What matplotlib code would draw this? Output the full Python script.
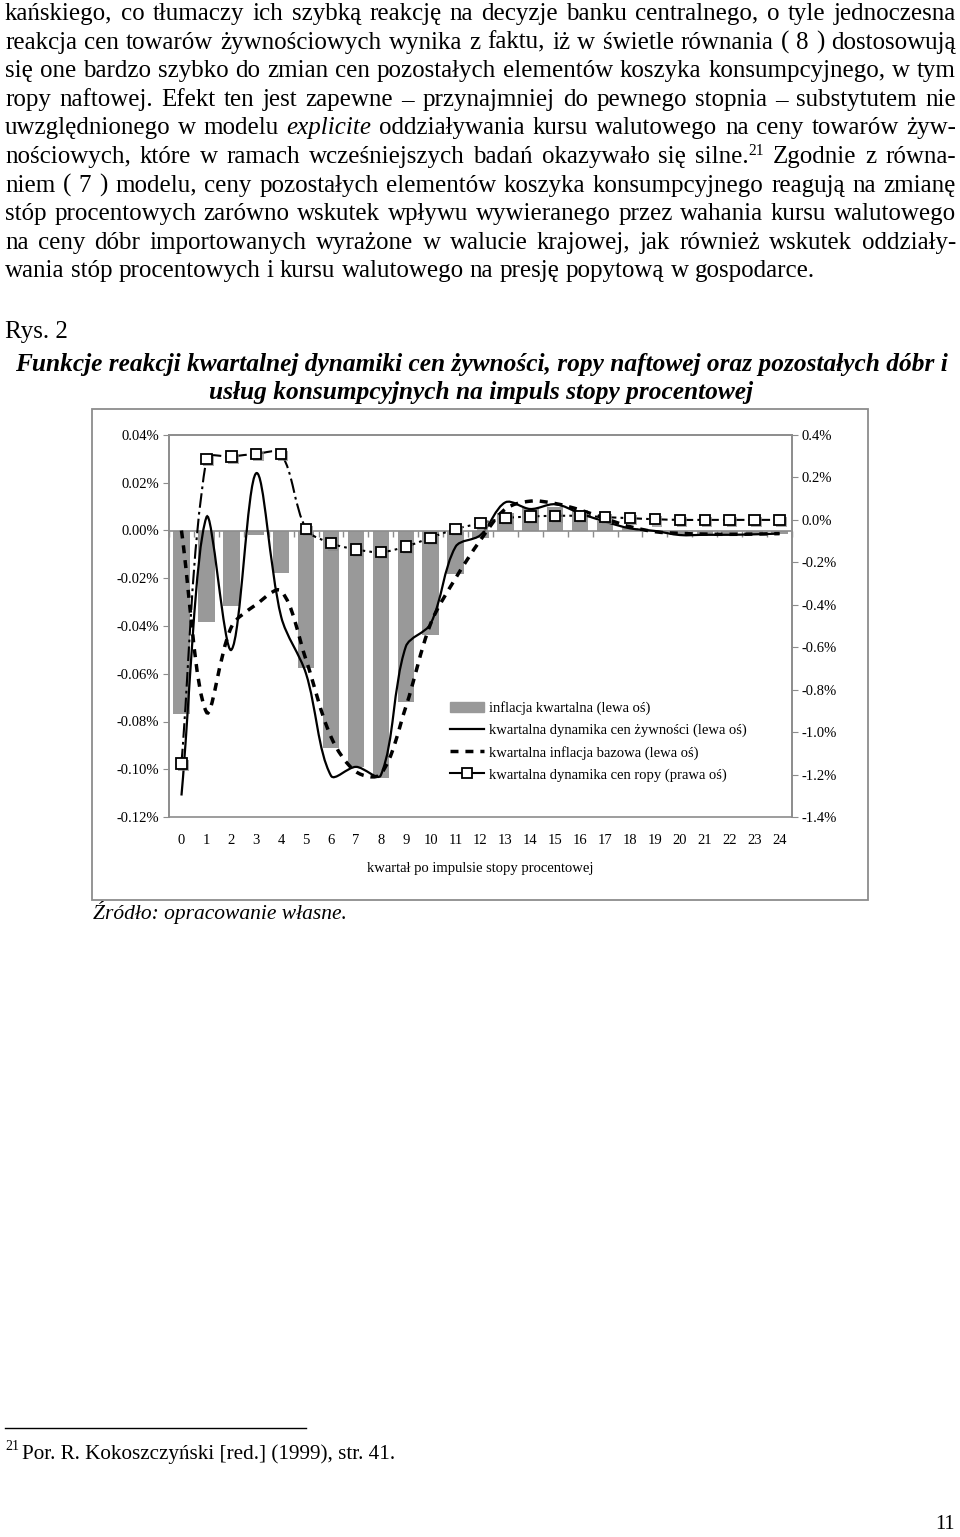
import matplotlib.pyplot as plt
import matplotlib.patheffects as pe
from matplotlib.path import Path
from matplotlib.patches import PathPatch, Rectangle
from matplotlib.lines import Line2D
from matplotlib.ticker import FuncFormatter, MultipleLocator
import numpy as np

# --- data ---
quarters = list(range(25))
inflation = [-0.0770, -0.0385, -0.0318, -0.0020, -0.0180, -0.0576, -0.0912, -0.0990, -0.1035,
             -0.0718, -0.0439, -0.0183, -0.0033, 0.0075, 0.0095, 0.0100, 0.0085, 0.0040,
             0.0010, -0.0008, -0.0015, -0.0018, -0.0018, -0.0017, -0.0015]
food = [-0.1110, 0.0055, -0.0500, 0.0240, -0.0361, -0.0600, -0.1027, -0.0990, -0.1025,
        -0.0487, -0.0390, -0.0068, -0.0019, 0.0118, 0.0090, 0.0110, 0.0072, 0.0037,
        0.0009, -0.0002, -0.0019, -0.0018, -0.0018, -0.0016, -0.0013]
core = [0.0000, -0.0760, -0.0405, -0.0310, -0.0253, -0.0542, -0.0864, -0.1010, -0.1020,
        -0.0740, -0.0390, -0.0200, -0.0040, 0.0090, 0.0123, 0.0113, 0.0086, 0.0050,
        0.0016, -0.0005, -0.0012, -0.0015, -0.0016, -0.0015, -0.0013]
oil = [-1.147, 0.286, 0.298, 0.311, 0.311, -0.042, -0.110, -0.139, -0.152, -0.126,
       -0.084, -0.043, -0.016, 0.008, 0.016, 0.019, 0.019, 0.013, 0.008, 0.003,
       0.0, 0.0, 0.0, 0.0, 0.0]

legend_labels = ["inflacja kwartalna (lewa oś)",
                 "kwartalna dynamika cen żywności (lewa oś)",
                 "kwartalna inflacja bazowa (lewa oś)",
                 "kwartalna dynamika cen ropy (prawa oś)"]
x_label = "kwartał po impulsie stopy procentowej"

body_lines = [
    "kańskiego, co tłumaczy ich szybką reakcję na decyzje banku centralnego, o tyle jednoczesna",
    "reakcja cen towarów żywnościowych wynika z faktu, iż w świetle równania ( 8 ) dostosowują",
    "się one bardzo szybko do zmian cen pozostałych elementów koszyka konsumpcyjnego, w tym",
    "ropy naftowej. Efekt ten jest zapewne – przynajmniej do pewnego stopnia – substytutem nie",
    "uwzględnionego w modelu *explicite* oddziaływania kursu walutowego na ceny towarów żyw-",
    "nościowych, które w ramach wcześniejszych badań okazywało się silne.^21 Zgodnie z równa-",
    "niem ( 7 ) modelu, ceny pozostałych elementów koszyka konsumpcyjnego reagują na zmianę",
    "stóp procentowych zarówno wskutek wpływu wywieranego przez wahania kursu walutowego",
    "na ceny dóbr importowanych wyrażone w walucie krajowej, jak również wskutek oddziały-",
    "wania stóp procentowych i kursu walutowego na presję popytową w gospodarce.",
]
fig_label = "Rys. 2"
title_lines = ["Funkcje reakcji kwartalnej dynamiki cen żywności, ropy naftowej oraz pozostałych dóbr i",
               "usług konsumpcyjnych na impuls stopy procentowej"]
source = "Źródło: opracowanie własne."
footnote = "Por. R. Kokoszczyński [red.] (1999), str. 41."
page_no = "11"

SERIF = ["Liberation Serif", "DejaVu Serif"]
W, H = 960, 1537
GRAY = "#8c8c8c"


def fx(x):
    return x / W


def fy(y):
    return 1 - y / H


def smooth_path(a, xs, ys, tension=1 / 3):
    # Bezier curve through the points, with the tangents weighted by the
    # on-screen segment lengths (the way spreadsheet "smoothed lines" behave)
    pts = a.transData.transform(np.column_stack([xs, ys]))
    n = len(pts)
    verts = [pts[0]]
    codes = [Path.MOVETO]
    for i in range(n - 1):
        p0, p1 = pts[max(i - 1, 0)], pts[i]
        p2, p3 = pts[i + 1], pts[min(i + 2, n - 1)]
        d01 = np.hypot(*(p1 - p0))
        d12 = np.hypot(*(p2 - p1))
        d23 = np.hypot(*(p3 - p2))
        f1 = tension * d12 / (d01 + d12) if d01 + d12 > 0 else 0
        f2 = tension * d12 / (d12 + d23) if d12 + d23 > 0 else 0
        verts += [p1 + (p2 - p0) * f1, p2 - (p3 - p1) * f2, p2]
        codes += [Path.CURVE4] * 3
    return Path(a.transData.inverted().transform(np.array(verts)), codes)


fig = plt.figure(figsize=(9.6, 15.37), dpi=100)
renderer = fig.canvas.get_renderer()

# --- body text, justified ---
BODY = 18
body_px = BODY * 100 / 72


def parse_word(w):
    if w.startswith("*") and w.endswith("*"):
        return [(w.strip("*"), "italic", BODY, 0)]
    if "^" in w:
        a, b = w.split("^")
        return [(a, "normal", BODY, 0), (b, "normal", BODY * 0.62, 8)]
    return [(w, "normal", BODY, 0)]


def seg_width(s, style, size):
    t = fig.text(0, 0, s, fontsize=size, fontstyle=style, family=SERIF)
    w = t.get_window_extent(renderer).width
    t.remove()
    return w


left, right = 5, 956
for k, line in enumerate(body_lines):
    base = 20 + 28.6 * k
    words = [parse_word(w) for w in line.split(" ")]
    widths = [sum(seg_width(s, st, sz) for s, st, sz, _ in wd) for wd in words]
    if k == len(body_lines) - 1:
        gap = body_px * 0.25
    else:
        gap = (right - left - sum(widths)) / (len(words) - 1)
    x = left
    for wd, ww in zip(words, widths):
        xx = x
        for s, st, sz, rise in wd:
            fig.text(fx(xx), fy(base - rise), s, fontsize=sz, fontstyle=st,
                     family=SERIF, va="baseline", ha="left")
            xx += seg_width(s, st, sz)
        x += ww + gap

fig.text(fx(5), fy(338), fig_label, fontsize=BODY, family=SERIF, va="baseline")
for k, tl in enumerate(title_lines):
    fig.text(fx(481), fy(371 + 28.5 * k), tl, fontsize=18.3, family=SERIF,
             fontstyle="italic", fontweight="bold", va="baseline", ha="center")

# --- chart frame ---
fig.patches.append(Rectangle((fx(92), fy(900)), fx(868) - fx(92), fy(409) - fy(900),
                             transform=fig.transFigure, fill=False, ec=GRAY, lw=1.3))

ax = fig.add_axes([fx(169), fy(817), fx(792) - fx(169), fy(435) - fy(817)])
ax2 = ax.twinx()

ax.set_xlim(-0.5, 24.5)
ax.set_ylim(-0.12, 0.04)
ax2.set_ylim(-1.4, 0.4)

ax.bar(quarters, inflation, width=0.66, color="#999999", zorder=1)
ax.add_patch(PathPatch(smooth_path(ax, quarters, food), fill=False, ec="black", lw=1.6,
                       zorder=3))
ax.add_patch(PathPatch(smooth_path(ax, quarters, core), fill=False, ec="black", lw=2.5,
                       ls=(0, (2.3, 2.0)), zorder=3))
ax2.add_patch(PathPatch(smooth_path(ax2, quarters, oil), fill=False, ec="black", lw=1.5,
                        ls=(0, (7, 2, 1.3, 2)), zorder=3))
shadow = [pe.SimplePatchShadow(offset=(1.5, -1.5), shadow_rgbFace="#888888", alpha=0.7),
          pe.Normal()]
ax2.plot(quarters, oil, ls="none", marker="s", ms=7.5, mfc="white", mec="black",
         mew=1.3, zorder=4, path_effects=shadow)

ax.yaxis.set_major_locator(MultipleLocator(0.02))
ax2.yaxis.set_major_locator(MultipleLocator(0.2))
ax.yaxis.set_major_formatter(FuncFormatter(lambda v, p: f"{round(v, 2) + 0:.2f}%"))
ax2.yaxis.set_major_formatter(FuncFormatter(lambda v, p: f"{round(v, 1) + 0:.1f}%"))

# shared x tickers: majors = quarters, minors = category boundaries
ax.set_xticks(quarters)
ax.set_xticks(np.arange(-0.5, 25), minor=True)
ax.spines["bottom"].set_position(("data", 0))
ax.tick_params(axis="x", which="major", length=0, labelbottom=False)
ax.tick_params(axis="x", which="minor", length=4, direction="out", color=GRAY, width=1)
ax2.xaxis.set_visible(True)
ax2.tick_params(axis="x", which="major", length=0, pad=12, labelsize=10.5)
ax2.tick_params(axis="x", which="minor", length=0)
ax2.set_xlabel(x_label, fontsize=10.5, family=SERIF, labelpad=11)

ax.tick_params(axis="y", length=4, color=GRAY, pad=3, labelsize=10.5)
ax2.tick_params(axis="y", length=4, color=GRAY, pad=3, labelsize=10.5)
for a in (ax, ax2):
    for sp in a.spines.values():
        sp.set_color(GRAY)
        sp.set_linewidth(1.2)
    for lab in a.get_xticklabels() + a.get_yticklabels():
        lab.set_family(SERIF)

handles = [Rectangle((0, 0), 1, 1, color="#999999"),
           Line2D([], [], color="black", lw=1.6),
           Line2D([], [], color="black", lw=2.5, ls=(0, (2.3, 2.0))),
           Line2D([], [], color="black", lw=1.5, marker="s", ms=7.5, mfc="white",
                  mec="black", mew=1.3)]
ax2.legend(handles, legend_labels, loc="upper left", bbox_to_anchor=(0.451, 0.303),
           frameon=False, prop={"family": SERIF, "size": 10.5}, handlelength=2.3,
           handletextpad=0.4, labelspacing=0.58, borderpad=0, borderaxespad=0)

# --- below the chart ---
fig.text(fx(93), fy(919), source, fontsize=15.5, family=SERIF, fontstyle="italic",
         va="baseline")
fig.lines.append(Line2D([fx(5), fx(306)], [fy(1428), fy(1428)], transform=fig.transFigure,
                        color="black", lw=1))
fig.text(fx(5), fy(1450), "21", fontsize=10, family=SERIF, va="baseline")
fig.text(fx(22), fy(1459), footnote, fontsize=15.2, family=SERIF, va="baseline")
fig.text(fx(955), fy(1529), page_no, fontsize=14.5, family=SERIF, va="baseline", ha="right")

fig.savefig("out.png", dpi=100)
